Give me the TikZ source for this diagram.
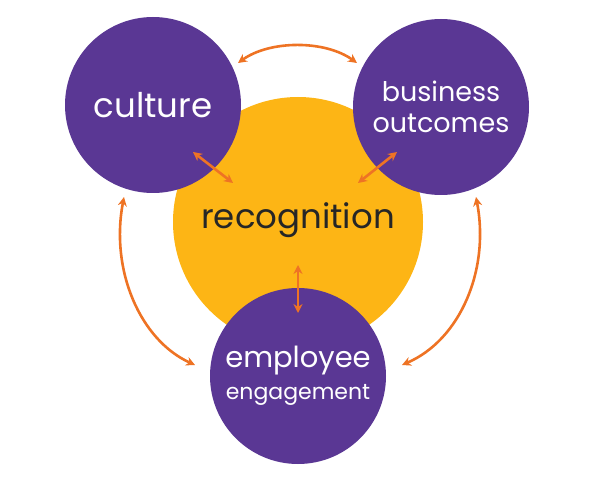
\documentclass[tikz,border=0pt]{standalone}
\usepackage{fontspec}
\setmainfont{Poppins}
\usetikzlibrary{arrows.meta}
\definecolor{purp}{HTML}{5A3794}
\definecolor{gold}{HTML}{FDB515}
\definecolor{arr}{HTML}{EE7324}
\tikzset{
  bubble/.style={circle,fill=purp,text=white,minimum size=176pt,inner sep=0pt,align=center},
  link/.style={draw=arr,line width=2.6pt,{Stealth[length=9pt,width=9pt]}-{Stealth[length=9pt,width=9pt]}}
}
\begin{document}
\begin{tikzpicture}[x=1pt,y=-1pt]
\useasboundingbox (0,0) rectangle (600,481);
\node[circle,fill=gold,minimum size=250pt,inner sep=0pt] (rec) at (298,222) {};
\node[bubble] (cul) at (153,105) {\fontsize{34}{38}\selectfont culture};
\node[bubble,font={\fontsize{27}{31}\selectfont}] (bus) at (441,107) {business\\outcomes};
\node[bubble,font={\fontsize{22}{32}\selectfont}] (emp) at (298,376) {{\fontsize{29}{32}\selectfont employee}\\engagement};
\node[text=black!85] (rect) at (298,220) {\fontsize{34}{38}\selectfont recognition};
\coordinate (a1) at (238,63); \coordinate (a2) at (357,63);
\coordinate (b1) at (193,152); \coordinate (b2) at (233,183);
\coordinate (c1) at (397,152); \coordinate (c2) at (358,183);
\coordinate (d1) at (298,265); \coordinate (d2) at (298,313);
\coordinate (e1) at (124,197); \coordinate (e2) at (195,365);
\coordinate (f1) at (476,197); \coordinate (f2) at (402,365);
\draw[link] (a1) .. controls (270,40) and (325,40) .. (a2);
\draw[link] (b1) -- (b2);
\draw[link] (c1) -- (c2);
\draw[link] (d1) -- (d2);
\draw[link] (e1) .. controls (110,270) and (140,340) .. (e2);
\draw[link] (f1) .. controls (490,270) and (460,340) .. (f2);
\end{tikzpicture}
\end{document}
